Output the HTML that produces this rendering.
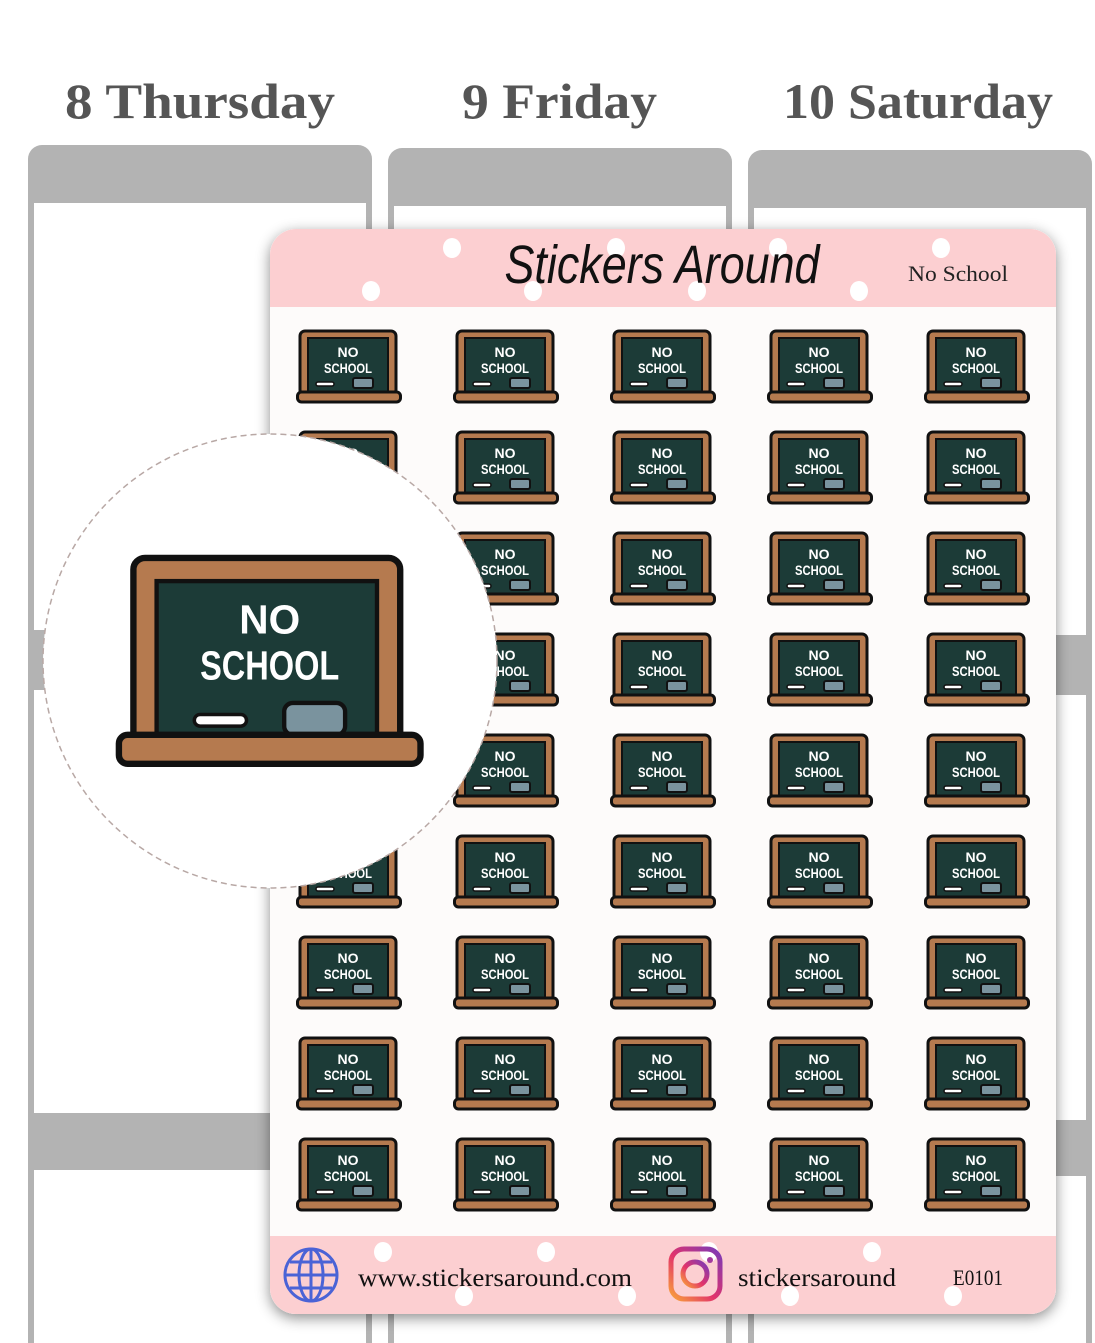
<!DOCTYPE html>
<html><head><meta charset="utf-8"><style>
html,body{margin:0;padding:0;background:#fff;width:1095px;height:1343px;overflow:hidden}
svg{display:block}
.st text{font-family:"Liberation Sans Narrow","Liberation Sans",sans-serif;font-weight:bold;font-size:14px;fill:#fff;text-anchor:middle}
.day{font-family:"Liberation Serif",serif;font-weight:bold;font-size:50px;fill:#555}
</style></head><body>
<svg width="1095" height="1343" viewBox="0 0 1095 1343" xmlns="http://www.w3.org/2000/svg">
<defs>
<filter id="sh" x="-10%" y="-10%" width="120%" height="120%"><feDropShadow dx="0" dy="4" stdDeviation="7" flood-color="#000" flood-opacity="0.45"/></filter>
<linearGradient id="ig" x1="0" y1="1" x2="1" y2="0"><stop offset="0" stop-color="#f9a23a"/><stop offset="0.45" stop-color="#e2336b"/><stop offset="1" stop-color="#7a3ab8"/></linearGradient>
</defs>
<text class="day" x="65" y="118" textLength="270" lengthAdjust="spacingAndGlyphs">8 Thursday</text>
<text class="day" x="462" y="118" textLength="195" lengthAdjust="spacingAndGlyphs">9 Friday</text>
<text class="day" x="783" y="118" textLength="270" lengthAdjust="spacingAndGlyphs">10 Saturday</text>
<!-- planner columns -->
<g fill="#b3b3b3">
<rect x="28" y="145" width="344" height="1220" rx="14"/>
<rect x="388" y="148" width="344" height="1220" rx="14"/>
<rect x="748" y="150" width="344" height="1220" rx="14"/>
</g>
<g fill="#fff">
<rect x="34" y="203" width="332" height="427"/><rect x="34" y="690" width="332" height="423"/><rect x="34" y="1170" width="332" height="200"/>
<rect x="394" y="206" width="332" height="427"/><rect x="394" y="693" width="332" height="425"/><rect x="394" y="1173" width="332" height="200"/>
<rect x="754" y="208" width="332" height="427"/><rect x="754" y="695" width="332" height="425"/><rect x="754" y="1176" width="332" height="200"/>
</g>
<!-- sheet -->
<g filter="url(#sh)"><rect x="270" y="229" width="786" height="1085" rx="26" fill="#fdfbfa"/></g>
<path d="M296 229 H1030 A26 26 0 0 1 1056 255 V307 H270 V255 A26 26 0 0 1 296 229Z" fill="#fccfd1"/>
<path d="M270 1236 H1056 V1288 A26 26 0 0 1 1030 1314 H296 A26 26 0 0 1 270 1288Z" fill="#fccfd1"/>
<g fill="#fff">
<ellipse cx="452" cy="248" rx="9" ry="10"/><ellipse cx="616" cy="248" rx="9" ry="10"/><ellipse cx="778" cy="248" rx="9" ry="10"/><ellipse cx="941" cy="248" rx="9" ry="10"/>
<ellipse cx="371" cy="291" rx="9" ry="10"/><ellipse cx="533" cy="291" rx="9" ry="10"/><ellipse cx="697" cy="291" rx="9" ry="10"/><ellipse cx="859" cy="291" rx="9" ry="10"/>
<ellipse cx="383" cy="1252" rx="9" ry="10"/><ellipse cx="546" cy="1252" rx="9" ry="10"/><ellipse cx="709" cy="1252" rx="9" ry="10"/><ellipse cx="872" cy="1252" rx="9" ry="10"/>
<ellipse cx="464" cy="1296" rx="9" ry="10"/><ellipse cx="627" cy="1296" rx="9" ry="10"/><ellipse cx="790" cy="1296" rx="9" ry="10"/><ellipse cx="953" cy="1296" rx="9" ry="10"/>
</g>
<text x="662" y="283" font-family="Liberation Sans Narrow,Liberation Sans,sans-serif" font-style="italic" font-size="54" fill="#111" text-anchor="middle" textLength="315" lengthAdjust="spacingAndGlyphs">Stickers Around</text>
<text x="958" y="281" font-family="Liberation Serif,serif" font-size="22" fill="#222" text-anchor="middle" textLength="100" lengthAdjust="spacingAndGlyphs">No School</text>
<!-- footer -->
<g fill="none" stroke="#4a63d6" stroke-width="3">
<circle cx="311" cy="1275" r="26"/><ellipse cx="311" cy="1275" rx="12" ry="26"/><line x1="311" y1="1249" x2="311" y2="1301"/><line x1="285" y1="1275" x2="337" y2="1275"/><path d="M290 1262 H332 M290 1288 H332"/>
</g>
<text x="358" y="1286" font-family="Liberation Serif,serif" font-size="25" fill="#111" textLength="274" lengthAdjust="spacingAndGlyphs">www.stickersaround.com</text>
<rect x="671" y="1249" width="49" height="50" rx="13" fill="none" stroke="url(#ig)" stroke-width="5"/>
<circle cx="695" cy="1274" r="12" fill="none" stroke="url(#ig)" stroke-width="5"/>
<circle cx="710" cy="1260" r="3" fill="#a43a9e"/>
<text x="738" y="1286" font-family="Liberation Serif,serif" font-size="25" fill="#111" textLength="158" lengthAdjust="spacingAndGlyphs">stickersaround</text>
<text x="953" y="1285" font-family="Liberation Serif,serif" font-size="22" fill="#111" textLength="50" lengthAdjust="spacingAndGlyphs">E0101</text>
<!-- stickers -->
<g class="st">
<g transform="translate(296,330)"><rect x="4" y="1" width="96" height="64" rx="5" fill="#b57a4f" stroke="#111" stroke-width="3"/><rect x="12" y="8" width="80" height="54" fill="#1c3b37" stroke="#111" stroke-width="2"/><text x="52" y="27">NO</text><text x="52" y="43" textLength="48" lengthAdjust="spacingAndGlyphs">SCHOOL</text><rect x="20" y="52" width="18" height="4" rx="2" fill="#fff" stroke="#111" stroke-width="1.5"/><rect x="57" y="48" width="20" height="10" rx="2" fill="#7a939e" stroke="#111" stroke-width="2"/><rect x="1.5" y="62" width="103" height="10" rx="4" fill="#b57a4f" stroke="#111" stroke-width="3"/></g>
<g transform="translate(453,330)"><rect x="4" y="1" width="96" height="64" rx="5" fill="#b57a4f" stroke="#111" stroke-width="3"/><rect x="12" y="8" width="80" height="54" fill="#1c3b37" stroke="#111" stroke-width="2"/><text x="52" y="27">NO</text><text x="52" y="43" textLength="48" lengthAdjust="spacingAndGlyphs">SCHOOL</text><rect x="20" y="52" width="18" height="4" rx="2" fill="#fff" stroke="#111" stroke-width="1.5"/><rect x="57" y="48" width="20" height="10" rx="2" fill="#7a939e" stroke="#111" stroke-width="2"/><rect x="1.5" y="62" width="103" height="10" rx="4" fill="#b57a4f" stroke="#111" stroke-width="3"/></g>
<g transform="translate(610,330)"><rect x="4" y="1" width="96" height="64" rx="5" fill="#b57a4f" stroke="#111" stroke-width="3"/><rect x="12" y="8" width="80" height="54" fill="#1c3b37" stroke="#111" stroke-width="2"/><text x="52" y="27">NO</text><text x="52" y="43" textLength="48" lengthAdjust="spacingAndGlyphs">SCHOOL</text><rect x="20" y="52" width="18" height="4" rx="2" fill="#fff" stroke="#111" stroke-width="1.5"/><rect x="57" y="48" width="20" height="10" rx="2" fill="#7a939e" stroke="#111" stroke-width="2"/><rect x="1.5" y="62" width="103" height="10" rx="4" fill="#b57a4f" stroke="#111" stroke-width="3"/></g>
<g transform="translate(767,330)"><rect x="4" y="1" width="96" height="64" rx="5" fill="#b57a4f" stroke="#111" stroke-width="3"/><rect x="12" y="8" width="80" height="54" fill="#1c3b37" stroke="#111" stroke-width="2"/><text x="52" y="27">NO</text><text x="52" y="43" textLength="48" lengthAdjust="spacingAndGlyphs">SCHOOL</text><rect x="20" y="52" width="18" height="4" rx="2" fill="#fff" stroke="#111" stroke-width="1.5"/><rect x="57" y="48" width="20" height="10" rx="2" fill="#7a939e" stroke="#111" stroke-width="2"/><rect x="1.5" y="62" width="103" height="10" rx="4" fill="#b57a4f" stroke="#111" stroke-width="3"/></g>
<g transform="translate(924,330)"><rect x="4" y="1" width="96" height="64" rx="5" fill="#b57a4f" stroke="#111" stroke-width="3"/><rect x="12" y="8" width="80" height="54" fill="#1c3b37" stroke="#111" stroke-width="2"/><text x="52" y="27">NO</text><text x="52" y="43" textLength="48" lengthAdjust="spacingAndGlyphs">SCHOOL</text><rect x="20" y="52" width="18" height="4" rx="2" fill="#fff" stroke="#111" stroke-width="1.5"/><rect x="57" y="48" width="20" height="10" rx="2" fill="#7a939e" stroke="#111" stroke-width="2"/><rect x="1.5" y="62" width="103" height="10" rx="4" fill="#b57a4f" stroke="#111" stroke-width="3"/></g>

<g transform="translate(296,431)"><rect x="4" y="1" width="96" height="64" rx="5" fill="#b57a4f" stroke="#111" stroke-width="3"/><rect x="12" y="8" width="80" height="54" fill="#1c3b37" stroke="#111" stroke-width="2"/><text x="52" y="27">NO</text><text x="52" y="43" textLength="48" lengthAdjust="spacingAndGlyphs">SCHOOL</text><rect x="20" y="52" width="18" height="4" rx="2" fill="#fff" stroke="#111" stroke-width="1.5"/><rect x="57" y="48" width="20" height="10" rx="2" fill="#7a939e" stroke="#111" stroke-width="2"/><rect x="1.5" y="62" width="103" height="10" rx="4" fill="#b57a4f" stroke="#111" stroke-width="3"/></g>
<g transform="translate(453,431)"><rect x="4" y="1" width="96" height="64" rx="5" fill="#b57a4f" stroke="#111" stroke-width="3"/><rect x="12" y="8" width="80" height="54" fill="#1c3b37" stroke="#111" stroke-width="2"/><text x="52" y="27">NO</text><text x="52" y="43" textLength="48" lengthAdjust="spacingAndGlyphs">SCHOOL</text><rect x="20" y="52" width="18" height="4" rx="2" fill="#fff" stroke="#111" stroke-width="1.5"/><rect x="57" y="48" width="20" height="10" rx="2" fill="#7a939e" stroke="#111" stroke-width="2"/><rect x="1.5" y="62" width="103" height="10" rx="4" fill="#b57a4f" stroke="#111" stroke-width="3"/></g>
<g transform="translate(610,431)"><rect x="4" y="1" width="96" height="64" rx="5" fill="#b57a4f" stroke="#111" stroke-width="3"/><rect x="12" y="8" width="80" height="54" fill="#1c3b37" stroke="#111" stroke-width="2"/><text x="52" y="27">NO</text><text x="52" y="43" textLength="48" lengthAdjust="spacingAndGlyphs">SCHOOL</text><rect x="20" y="52" width="18" height="4" rx="2" fill="#fff" stroke="#111" stroke-width="1.5"/><rect x="57" y="48" width="20" height="10" rx="2" fill="#7a939e" stroke="#111" stroke-width="2"/><rect x="1.5" y="62" width="103" height="10" rx="4" fill="#b57a4f" stroke="#111" stroke-width="3"/></g>
<g transform="translate(767,431)"><rect x="4" y="1" width="96" height="64" rx="5" fill="#b57a4f" stroke="#111" stroke-width="3"/><rect x="12" y="8" width="80" height="54" fill="#1c3b37" stroke="#111" stroke-width="2"/><text x="52" y="27">NO</text><text x="52" y="43" textLength="48" lengthAdjust="spacingAndGlyphs">SCHOOL</text><rect x="20" y="52" width="18" height="4" rx="2" fill="#fff" stroke="#111" stroke-width="1.5"/><rect x="57" y="48" width="20" height="10" rx="2" fill="#7a939e" stroke="#111" stroke-width="2"/><rect x="1.5" y="62" width="103" height="10" rx="4" fill="#b57a4f" stroke="#111" stroke-width="3"/></g>
<g transform="translate(924,431)"><rect x="4" y="1" width="96" height="64" rx="5" fill="#b57a4f" stroke="#111" stroke-width="3"/><rect x="12" y="8" width="80" height="54" fill="#1c3b37" stroke="#111" stroke-width="2"/><text x="52" y="27">NO</text><text x="52" y="43" textLength="48" lengthAdjust="spacingAndGlyphs">SCHOOL</text><rect x="20" y="52" width="18" height="4" rx="2" fill="#fff" stroke="#111" stroke-width="1.5"/><rect x="57" y="48" width="20" height="10" rx="2" fill="#7a939e" stroke="#111" stroke-width="2"/><rect x="1.5" y="62" width="103" height="10" rx="4" fill="#b57a4f" stroke="#111" stroke-width="3"/></g>

<g transform="translate(296,532)"><rect x="4" y="1" width="96" height="64" rx="5" fill="#b57a4f" stroke="#111" stroke-width="3"/><rect x="12" y="8" width="80" height="54" fill="#1c3b37" stroke="#111" stroke-width="2"/><text x="52" y="27">NO</text><text x="52" y="43" textLength="48" lengthAdjust="spacingAndGlyphs">SCHOOL</text><rect x="20" y="52" width="18" height="4" rx="2" fill="#fff" stroke="#111" stroke-width="1.5"/><rect x="57" y="48" width="20" height="10" rx="2" fill="#7a939e" stroke="#111" stroke-width="2"/><rect x="1.5" y="62" width="103" height="10" rx="4" fill="#b57a4f" stroke="#111" stroke-width="3"/></g>
<g transform="translate(453,532)"><rect x="4" y="1" width="96" height="64" rx="5" fill="#b57a4f" stroke="#111" stroke-width="3"/><rect x="12" y="8" width="80" height="54" fill="#1c3b37" stroke="#111" stroke-width="2"/><text x="52" y="27">NO</text><text x="52" y="43" textLength="48" lengthAdjust="spacingAndGlyphs">SCHOOL</text><rect x="20" y="52" width="18" height="4" rx="2" fill="#fff" stroke="#111" stroke-width="1.5"/><rect x="57" y="48" width="20" height="10" rx="2" fill="#7a939e" stroke="#111" stroke-width="2"/><rect x="1.5" y="62" width="103" height="10" rx="4" fill="#b57a4f" stroke="#111" stroke-width="3"/></g>
<g transform="translate(610,532)"><rect x="4" y="1" width="96" height="64" rx="5" fill="#b57a4f" stroke="#111" stroke-width="3"/><rect x="12" y="8" width="80" height="54" fill="#1c3b37" stroke="#111" stroke-width="2"/><text x="52" y="27">NO</text><text x="52" y="43" textLength="48" lengthAdjust="spacingAndGlyphs">SCHOOL</text><rect x="20" y="52" width="18" height="4" rx="2" fill="#fff" stroke="#111" stroke-width="1.5"/><rect x="57" y="48" width="20" height="10" rx="2" fill="#7a939e" stroke="#111" stroke-width="2"/><rect x="1.5" y="62" width="103" height="10" rx="4" fill="#b57a4f" stroke="#111" stroke-width="3"/></g>
<g transform="translate(767,532)"><rect x="4" y="1" width="96" height="64" rx="5" fill="#b57a4f" stroke="#111" stroke-width="3"/><rect x="12" y="8" width="80" height="54" fill="#1c3b37" stroke="#111" stroke-width="2"/><text x="52" y="27">NO</text><text x="52" y="43" textLength="48" lengthAdjust="spacingAndGlyphs">SCHOOL</text><rect x="20" y="52" width="18" height="4" rx="2" fill="#fff" stroke="#111" stroke-width="1.5"/><rect x="57" y="48" width="20" height="10" rx="2" fill="#7a939e" stroke="#111" stroke-width="2"/><rect x="1.5" y="62" width="103" height="10" rx="4" fill="#b57a4f" stroke="#111" stroke-width="3"/></g>
<g transform="translate(924,532)"><rect x="4" y="1" width="96" height="64" rx="5" fill="#b57a4f" stroke="#111" stroke-width="3"/><rect x="12" y="8" width="80" height="54" fill="#1c3b37" stroke="#111" stroke-width="2"/><text x="52" y="27">NO</text><text x="52" y="43" textLength="48" lengthAdjust="spacingAndGlyphs">SCHOOL</text><rect x="20" y="52" width="18" height="4" rx="2" fill="#fff" stroke="#111" stroke-width="1.5"/><rect x="57" y="48" width="20" height="10" rx="2" fill="#7a939e" stroke="#111" stroke-width="2"/><rect x="1.5" y="62" width="103" height="10" rx="4" fill="#b57a4f" stroke="#111" stroke-width="3"/></g>

<g transform="translate(296,633)"><rect x="4" y="1" width="96" height="64" rx="5" fill="#b57a4f" stroke="#111" stroke-width="3"/><rect x="12" y="8" width="80" height="54" fill="#1c3b37" stroke="#111" stroke-width="2"/><text x="52" y="27">NO</text><text x="52" y="43" textLength="48" lengthAdjust="spacingAndGlyphs">SCHOOL</text><rect x="20" y="52" width="18" height="4" rx="2" fill="#fff" stroke="#111" stroke-width="1.5"/><rect x="57" y="48" width="20" height="10" rx="2" fill="#7a939e" stroke="#111" stroke-width="2"/><rect x="1.5" y="62" width="103" height="10" rx="4" fill="#b57a4f" stroke="#111" stroke-width="3"/></g>
<g transform="translate(453,633)"><rect x="4" y="1" width="96" height="64" rx="5" fill="#b57a4f" stroke="#111" stroke-width="3"/><rect x="12" y="8" width="80" height="54" fill="#1c3b37" stroke="#111" stroke-width="2"/><text x="52" y="27">NO</text><text x="52" y="43" textLength="48" lengthAdjust="spacingAndGlyphs">SCHOOL</text><rect x="20" y="52" width="18" height="4" rx="2" fill="#fff" stroke="#111" stroke-width="1.5"/><rect x="57" y="48" width="20" height="10" rx="2" fill="#7a939e" stroke="#111" stroke-width="2"/><rect x="1.5" y="62" width="103" height="10" rx="4" fill="#b57a4f" stroke="#111" stroke-width="3"/></g>
<g transform="translate(610,633)"><rect x="4" y="1" width="96" height="64" rx="5" fill="#b57a4f" stroke="#111" stroke-width="3"/><rect x="12" y="8" width="80" height="54" fill="#1c3b37" stroke="#111" stroke-width="2"/><text x="52" y="27">NO</text><text x="52" y="43" textLength="48" lengthAdjust="spacingAndGlyphs">SCHOOL</text><rect x="20" y="52" width="18" height="4" rx="2" fill="#fff" stroke="#111" stroke-width="1.5"/><rect x="57" y="48" width="20" height="10" rx="2" fill="#7a939e" stroke="#111" stroke-width="2"/><rect x="1.5" y="62" width="103" height="10" rx="4" fill="#b57a4f" stroke="#111" stroke-width="3"/></g>
<g transform="translate(767,633)"><rect x="4" y="1" width="96" height="64" rx="5" fill="#b57a4f" stroke="#111" stroke-width="3"/><rect x="12" y="8" width="80" height="54" fill="#1c3b37" stroke="#111" stroke-width="2"/><text x="52" y="27">NO</text><text x="52" y="43" textLength="48" lengthAdjust="spacingAndGlyphs">SCHOOL</text><rect x="20" y="52" width="18" height="4" rx="2" fill="#fff" stroke="#111" stroke-width="1.5"/><rect x="57" y="48" width="20" height="10" rx="2" fill="#7a939e" stroke="#111" stroke-width="2"/><rect x="1.5" y="62" width="103" height="10" rx="4" fill="#b57a4f" stroke="#111" stroke-width="3"/></g>
<g transform="translate(924,633)"><rect x="4" y="1" width="96" height="64" rx="5" fill="#b57a4f" stroke="#111" stroke-width="3"/><rect x="12" y="8" width="80" height="54" fill="#1c3b37" stroke="#111" stroke-width="2"/><text x="52" y="27">NO</text><text x="52" y="43" textLength="48" lengthAdjust="spacingAndGlyphs">SCHOOL</text><rect x="20" y="52" width="18" height="4" rx="2" fill="#fff" stroke="#111" stroke-width="1.5"/><rect x="57" y="48" width="20" height="10" rx="2" fill="#7a939e" stroke="#111" stroke-width="2"/><rect x="1.5" y="62" width="103" height="10" rx="4" fill="#b57a4f" stroke="#111" stroke-width="3"/></g>

<g transform="translate(296,734)"><rect x="4" y="1" width="96" height="64" rx="5" fill="#b57a4f" stroke="#111" stroke-width="3"/><rect x="12" y="8" width="80" height="54" fill="#1c3b37" stroke="#111" stroke-width="2"/><text x="52" y="27">NO</text><text x="52" y="43" textLength="48" lengthAdjust="spacingAndGlyphs">SCHOOL</text><rect x="20" y="52" width="18" height="4" rx="2" fill="#fff" stroke="#111" stroke-width="1.5"/><rect x="57" y="48" width="20" height="10" rx="2" fill="#7a939e" stroke="#111" stroke-width="2"/><rect x="1.5" y="62" width="103" height="10" rx="4" fill="#b57a4f" stroke="#111" stroke-width="3"/></g>
<g transform="translate(453,734)"><rect x="4" y="1" width="96" height="64" rx="5" fill="#b57a4f" stroke="#111" stroke-width="3"/><rect x="12" y="8" width="80" height="54" fill="#1c3b37" stroke="#111" stroke-width="2"/><text x="52" y="27">NO</text><text x="52" y="43" textLength="48" lengthAdjust="spacingAndGlyphs">SCHOOL</text><rect x="20" y="52" width="18" height="4" rx="2" fill="#fff" stroke="#111" stroke-width="1.5"/><rect x="57" y="48" width="20" height="10" rx="2" fill="#7a939e" stroke="#111" stroke-width="2"/><rect x="1.5" y="62" width="103" height="10" rx="4" fill="#b57a4f" stroke="#111" stroke-width="3"/></g>
<g transform="translate(610,734)"><rect x="4" y="1" width="96" height="64" rx="5" fill="#b57a4f" stroke="#111" stroke-width="3"/><rect x="12" y="8" width="80" height="54" fill="#1c3b37" stroke="#111" stroke-width="2"/><text x="52" y="27">NO</text><text x="52" y="43" textLength="48" lengthAdjust="spacingAndGlyphs">SCHOOL</text><rect x="20" y="52" width="18" height="4" rx="2" fill="#fff" stroke="#111" stroke-width="1.5"/><rect x="57" y="48" width="20" height="10" rx="2" fill="#7a939e" stroke="#111" stroke-width="2"/><rect x="1.5" y="62" width="103" height="10" rx="4" fill="#b57a4f" stroke="#111" stroke-width="3"/></g>
<g transform="translate(767,734)"><rect x="4" y="1" width="96" height="64" rx="5" fill="#b57a4f" stroke="#111" stroke-width="3"/><rect x="12" y="8" width="80" height="54" fill="#1c3b37" stroke="#111" stroke-width="2"/><text x="52" y="27">NO</text><text x="52" y="43" textLength="48" lengthAdjust="spacingAndGlyphs">SCHOOL</text><rect x="20" y="52" width="18" height="4" rx="2" fill="#fff" stroke="#111" stroke-width="1.5"/><rect x="57" y="48" width="20" height="10" rx="2" fill="#7a939e" stroke="#111" stroke-width="2"/><rect x="1.5" y="62" width="103" height="10" rx="4" fill="#b57a4f" stroke="#111" stroke-width="3"/></g>
<g transform="translate(924,734)"><rect x="4" y="1" width="96" height="64" rx="5" fill="#b57a4f" stroke="#111" stroke-width="3"/><rect x="12" y="8" width="80" height="54" fill="#1c3b37" stroke="#111" stroke-width="2"/><text x="52" y="27">NO</text><text x="52" y="43" textLength="48" lengthAdjust="spacingAndGlyphs">SCHOOL</text><rect x="20" y="52" width="18" height="4" rx="2" fill="#fff" stroke="#111" stroke-width="1.5"/><rect x="57" y="48" width="20" height="10" rx="2" fill="#7a939e" stroke="#111" stroke-width="2"/><rect x="1.5" y="62" width="103" height="10" rx="4" fill="#b57a4f" stroke="#111" stroke-width="3"/></g>

<g transform="translate(296,835)"><rect x="4" y="1" width="96" height="64" rx="5" fill="#b57a4f" stroke="#111" stroke-width="3"/><rect x="12" y="8" width="80" height="54" fill="#1c3b37" stroke="#111" stroke-width="2"/><text x="52" y="27">NO</text><text x="52" y="43" textLength="48" lengthAdjust="spacingAndGlyphs">SCHOOL</text><rect x="20" y="52" width="18" height="4" rx="2" fill="#fff" stroke="#111" stroke-width="1.5"/><rect x="57" y="48" width="20" height="10" rx="2" fill="#7a939e" stroke="#111" stroke-width="2"/><rect x="1.5" y="62" width="103" height="10" rx="4" fill="#b57a4f" stroke="#111" stroke-width="3"/></g>
<g transform="translate(453,835)"><rect x="4" y="1" width="96" height="64" rx="5" fill="#b57a4f" stroke="#111" stroke-width="3"/><rect x="12" y="8" width="80" height="54" fill="#1c3b37" stroke="#111" stroke-width="2"/><text x="52" y="27">NO</text><text x="52" y="43" textLength="48" lengthAdjust="spacingAndGlyphs">SCHOOL</text><rect x="20" y="52" width="18" height="4" rx="2" fill="#fff" stroke="#111" stroke-width="1.5"/><rect x="57" y="48" width="20" height="10" rx="2" fill="#7a939e" stroke="#111" stroke-width="2"/><rect x="1.5" y="62" width="103" height="10" rx="4" fill="#b57a4f" stroke="#111" stroke-width="3"/></g>
<g transform="translate(610,835)"><rect x="4" y="1" width="96" height="64" rx="5" fill="#b57a4f" stroke="#111" stroke-width="3"/><rect x="12" y="8" width="80" height="54" fill="#1c3b37" stroke="#111" stroke-width="2"/><text x="52" y="27">NO</text><text x="52" y="43" textLength="48" lengthAdjust="spacingAndGlyphs">SCHOOL</text><rect x="20" y="52" width="18" height="4" rx="2" fill="#fff" stroke="#111" stroke-width="1.5"/><rect x="57" y="48" width="20" height="10" rx="2" fill="#7a939e" stroke="#111" stroke-width="2"/><rect x="1.5" y="62" width="103" height="10" rx="4" fill="#b57a4f" stroke="#111" stroke-width="3"/></g>
<g transform="translate(767,835)"><rect x="4" y="1" width="96" height="64" rx="5" fill="#b57a4f" stroke="#111" stroke-width="3"/><rect x="12" y="8" width="80" height="54" fill="#1c3b37" stroke="#111" stroke-width="2"/><text x="52" y="27">NO</text><text x="52" y="43" textLength="48" lengthAdjust="spacingAndGlyphs">SCHOOL</text><rect x="20" y="52" width="18" height="4" rx="2" fill="#fff" stroke="#111" stroke-width="1.5"/><rect x="57" y="48" width="20" height="10" rx="2" fill="#7a939e" stroke="#111" stroke-width="2"/><rect x="1.5" y="62" width="103" height="10" rx="4" fill="#b57a4f" stroke="#111" stroke-width="3"/></g>
<g transform="translate(924,835)"><rect x="4" y="1" width="96" height="64" rx="5" fill="#b57a4f" stroke="#111" stroke-width="3"/><rect x="12" y="8" width="80" height="54" fill="#1c3b37" stroke="#111" stroke-width="2"/><text x="52" y="27">NO</text><text x="52" y="43" textLength="48" lengthAdjust="spacingAndGlyphs">SCHOOL</text><rect x="20" y="52" width="18" height="4" rx="2" fill="#fff" stroke="#111" stroke-width="1.5"/><rect x="57" y="48" width="20" height="10" rx="2" fill="#7a939e" stroke="#111" stroke-width="2"/><rect x="1.5" y="62" width="103" height="10" rx="4" fill="#b57a4f" stroke="#111" stroke-width="3"/></g>

<g transform="translate(296,936)"><rect x="4" y="1" width="96" height="64" rx="5" fill="#b57a4f" stroke="#111" stroke-width="3"/><rect x="12" y="8" width="80" height="54" fill="#1c3b37" stroke="#111" stroke-width="2"/><text x="52" y="27">NO</text><text x="52" y="43" textLength="48" lengthAdjust="spacingAndGlyphs">SCHOOL</text><rect x="20" y="52" width="18" height="4" rx="2" fill="#fff" stroke="#111" stroke-width="1.5"/><rect x="57" y="48" width="20" height="10" rx="2" fill="#7a939e" stroke="#111" stroke-width="2"/><rect x="1.5" y="62" width="103" height="10" rx="4" fill="#b57a4f" stroke="#111" stroke-width="3"/></g>
<g transform="translate(453,936)"><rect x="4" y="1" width="96" height="64" rx="5" fill="#b57a4f" stroke="#111" stroke-width="3"/><rect x="12" y="8" width="80" height="54" fill="#1c3b37" stroke="#111" stroke-width="2"/><text x="52" y="27">NO</text><text x="52" y="43" textLength="48" lengthAdjust="spacingAndGlyphs">SCHOOL</text><rect x="20" y="52" width="18" height="4" rx="2" fill="#fff" stroke="#111" stroke-width="1.5"/><rect x="57" y="48" width="20" height="10" rx="2" fill="#7a939e" stroke="#111" stroke-width="2"/><rect x="1.5" y="62" width="103" height="10" rx="4" fill="#b57a4f" stroke="#111" stroke-width="3"/></g>
<g transform="translate(610,936)"><rect x="4" y="1" width="96" height="64" rx="5" fill="#b57a4f" stroke="#111" stroke-width="3"/><rect x="12" y="8" width="80" height="54" fill="#1c3b37" stroke="#111" stroke-width="2"/><text x="52" y="27">NO</text><text x="52" y="43" textLength="48" lengthAdjust="spacingAndGlyphs">SCHOOL</text><rect x="20" y="52" width="18" height="4" rx="2" fill="#fff" stroke="#111" stroke-width="1.5"/><rect x="57" y="48" width="20" height="10" rx="2" fill="#7a939e" stroke="#111" stroke-width="2"/><rect x="1.5" y="62" width="103" height="10" rx="4" fill="#b57a4f" stroke="#111" stroke-width="3"/></g>
<g transform="translate(767,936)"><rect x="4" y="1" width="96" height="64" rx="5" fill="#b57a4f" stroke="#111" stroke-width="3"/><rect x="12" y="8" width="80" height="54" fill="#1c3b37" stroke="#111" stroke-width="2"/><text x="52" y="27">NO</text><text x="52" y="43" textLength="48" lengthAdjust="spacingAndGlyphs">SCHOOL</text><rect x="20" y="52" width="18" height="4" rx="2" fill="#fff" stroke="#111" stroke-width="1.5"/><rect x="57" y="48" width="20" height="10" rx="2" fill="#7a939e" stroke="#111" stroke-width="2"/><rect x="1.5" y="62" width="103" height="10" rx="4" fill="#b57a4f" stroke="#111" stroke-width="3"/></g>
<g transform="translate(924,936)"><rect x="4" y="1" width="96" height="64" rx="5" fill="#b57a4f" stroke="#111" stroke-width="3"/><rect x="12" y="8" width="80" height="54" fill="#1c3b37" stroke="#111" stroke-width="2"/><text x="52" y="27">NO</text><text x="52" y="43" textLength="48" lengthAdjust="spacingAndGlyphs">SCHOOL</text><rect x="20" y="52" width="18" height="4" rx="2" fill="#fff" stroke="#111" stroke-width="1.5"/><rect x="57" y="48" width="20" height="10" rx="2" fill="#7a939e" stroke="#111" stroke-width="2"/><rect x="1.5" y="62" width="103" height="10" rx="4" fill="#b57a4f" stroke="#111" stroke-width="3"/></g>

<g transform="translate(296,1037)"><rect x="4" y="1" width="96" height="64" rx="5" fill="#b57a4f" stroke="#111" stroke-width="3"/><rect x="12" y="8" width="80" height="54" fill="#1c3b37" stroke="#111" stroke-width="2"/><text x="52" y="27">NO</text><text x="52" y="43" textLength="48" lengthAdjust="spacingAndGlyphs">SCHOOL</text><rect x="20" y="52" width="18" height="4" rx="2" fill="#fff" stroke="#111" stroke-width="1.5"/><rect x="57" y="48" width="20" height="10" rx="2" fill="#7a939e" stroke="#111" stroke-width="2"/><rect x="1.5" y="62" width="103" height="10" rx="4" fill="#b57a4f" stroke="#111" stroke-width="3"/></g>
<g transform="translate(453,1037)"><rect x="4" y="1" width="96" height="64" rx="5" fill="#b57a4f" stroke="#111" stroke-width="3"/><rect x="12" y="8" width="80" height="54" fill="#1c3b37" stroke="#111" stroke-width="2"/><text x="52" y="27">NO</text><text x="52" y="43" textLength="48" lengthAdjust="spacingAndGlyphs">SCHOOL</text><rect x="20" y="52" width="18" height="4" rx="2" fill="#fff" stroke="#111" stroke-width="1.5"/><rect x="57" y="48" width="20" height="10" rx="2" fill="#7a939e" stroke="#111" stroke-width="2"/><rect x="1.5" y="62" width="103" height="10" rx="4" fill="#b57a4f" stroke="#111" stroke-width="3"/></g>
<g transform="translate(610,1037)"><rect x="4" y="1" width="96" height="64" rx="5" fill="#b57a4f" stroke="#111" stroke-width="3"/><rect x="12" y="8" width="80" height="54" fill="#1c3b37" stroke="#111" stroke-width="2"/><text x="52" y="27">NO</text><text x="52" y="43" textLength="48" lengthAdjust="spacingAndGlyphs">SCHOOL</text><rect x="20" y="52" width="18" height="4" rx="2" fill="#fff" stroke="#111" stroke-width="1.5"/><rect x="57" y="48" width="20" height="10" rx="2" fill="#7a939e" stroke="#111" stroke-width="2"/><rect x="1.5" y="62" width="103" height="10" rx="4" fill="#b57a4f" stroke="#111" stroke-width="3"/></g>
<g transform="translate(767,1037)"><rect x="4" y="1" width="96" height="64" rx="5" fill="#b57a4f" stroke="#111" stroke-width="3"/><rect x="12" y="8" width="80" height="54" fill="#1c3b37" stroke="#111" stroke-width="2"/><text x="52" y="27">NO</text><text x="52" y="43" textLength="48" lengthAdjust="spacingAndGlyphs">SCHOOL</text><rect x="20" y="52" width="18" height="4" rx="2" fill="#fff" stroke="#111" stroke-width="1.5"/><rect x="57" y="48" width="20" height="10" rx="2" fill="#7a939e" stroke="#111" stroke-width="2"/><rect x="1.5" y="62" width="103" height="10" rx="4" fill="#b57a4f" stroke="#111" stroke-width="3"/></g>
<g transform="translate(924,1037)"><rect x="4" y="1" width="96" height="64" rx="5" fill="#b57a4f" stroke="#111" stroke-width="3"/><rect x="12" y="8" width="80" height="54" fill="#1c3b37" stroke="#111" stroke-width="2"/><text x="52" y="27">NO</text><text x="52" y="43" textLength="48" lengthAdjust="spacingAndGlyphs">SCHOOL</text><rect x="20" y="52" width="18" height="4" rx="2" fill="#fff" stroke="#111" stroke-width="1.5"/><rect x="57" y="48" width="20" height="10" rx="2" fill="#7a939e" stroke="#111" stroke-width="2"/><rect x="1.5" y="62" width="103" height="10" rx="4" fill="#b57a4f" stroke="#111" stroke-width="3"/></g>

<g transform="translate(296,1138)"><rect x="4" y="1" width="96" height="64" rx="5" fill="#b57a4f" stroke="#111" stroke-width="3"/><rect x="12" y="8" width="80" height="54" fill="#1c3b37" stroke="#111" stroke-width="2"/><text x="52" y="27">NO</text><text x="52" y="43" textLength="48" lengthAdjust="spacingAndGlyphs">SCHOOL</text><rect x="20" y="52" width="18" height="4" rx="2" fill="#fff" stroke="#111" stroke-width="1.5"/><rect x="57" y="48" width="20" height="10" rx="2" fill="#7a939e" stroke="#111" stroke-width="2"/><rect x="1.5" y="62" width="103" height="10" rx="4" fill="#b57a4f" stroke="#111" stroke-width="3"/></g>
<g transform="translate(453,1138)"><rect x="4" y="1" width="96" height="64" rx="5" fill="#b57a4f" stroke="#111" stroke-width="3"/><rect x="12" y="8" width="80" height="54" fill="#1c3b37" stroke="#111" stroke-width="2"/><text x="52" y="27">NO</text><text x="52" y="43" textLength="48" lengthAdjust="spacingAndGlyphs">SCHOOL</text><rect x="20" y="52" width="18" height="4" rx="2" fill="#fff" stroke="#111" stroke-width="1.5"/><rect x="57" y="48" width="20" height="10" rx="2" fill="#7a939e" stroke="#111" stroke-width="2"/><rect x="1.5" y="62" width="103" height="10" rx="4" fill="#b57a4f" stroke="#111" stroke-width="3"/></g>
<g transform="translate(610,1138)"><rect x="4" y="1" width="96" height="64" rx="5" fill="#b57a4f" stroke="#111" stroke-width="3"/><rect x="12" y="8" width="80" height="54" fill="#1c3b37" stroke="#111" stroke-width="2"/><text x="52" y="27">NO</text><text x="52" y="43" textLength="48" lengthAdjust="spacingAndGlyphs">SCHOOL</text><rect x="20" y="52" width="18" height="4" rx="2" fill="#fff" stroke="#111" stroke-width="1.5"/><rect x="57" y="48" width="20" height="10" rx="2" fill="#7a939e" stroke="#111" stroke-width="2"/><rect x="1.5" y="62" width="103" height="10" rx="4" fill="#b57a4f" stroke="#111" stroke-width="3"/></g>
<g transform="translate(767,1138)"><rect x="4" y="1" width="96" height="64" rx="5" fill="#b57a4f" stroke="#111" stroke-width="3"/><rect x="12" y="8" width="80" height="54" fill="#1c3b37" stroke="#111" stroke-width="2"/><text x="52" y="27">NO</text><text x="52" y="43" textLength="48" lengthAdjust="spacingAndGlyphs">SCHOOL</text><rect x="20" y="52" width="18" height="4" rx="2" fill="#fff" stroke="#111" stroke-width="1.5"/><rect x="57" y="48" width="20" height="10" rx="2" fill="#7a939e" stroke="#111" stroke-width="2"/><rect x="1.5" y="62" width="103" height="10" rx="4" fill="#b57a4f" stroke="#111" stroke-width="3"/></g>
<g transform="translate(924,1138)"><rect x="4" y="1" width="96" height="64" rx="5" fill="#b57a4f" stroke="#111" stroke-width="3"/><rect x="12" y="8" width="80" height="54" fill="#1c3b37" stroke="#111" stroke-width="2"/><text x="52" y="27">NO</text><text x="52" y="43" textLength="48" lengthAdjust="spacingAndGlyphs">SCHOOL</text><rect x="20" y="52" width="18" height="4" rx="2" fill="#fff" stroke="#111" stroke-width="1.5"/><rect x="57" y="48" width="20" height="10" rx="2" fill="#7a939e" stroke="#111" stroke-width="2"/><rect x="1.5" y="62" width="103" height="10" rx="4" fill="#b57a4f" stroke="#111" stroke-width="3"/></g>
</g>
<!-- magnifier circle -->
<circle cx="270" cy="661" r="227" fill="#fff" stroke="#b8a8a5" stroke-width="1.5" stroke-dasharray="6 4"/>
<g class="st" transform="translate(116,555) scale(2.9)"><rect x="6" y="1" width="92" height="64" rx="4" fill="#b57a4f" stroke="#111" stroke-width="2.2"/><rect x="14" y="9" width="76" height="53" fill="#1c3b37" stroke="#111" stroke-width="1.5"/><text x="53" y="27">NO</text><text x="53" y="43" textLength="48" lengthAdjust="spacingAndGlyphs">SCHOOL</text><rect x="27" y="55" width="18" height="4" rx="2" fill="#fff" stroke="#111" stroke-width="1.2"/><rect x="58" y="51" width="21" height="11" rx="3" fill="#7a939e" stroke="#111" stroke-width="1.5"/><rect x="1" y="62" width="104" height="10" rx="3" fill="#b57a4f" stroke="#111" stroke-width="2.2"/></g>
</svg>
</body></html>
